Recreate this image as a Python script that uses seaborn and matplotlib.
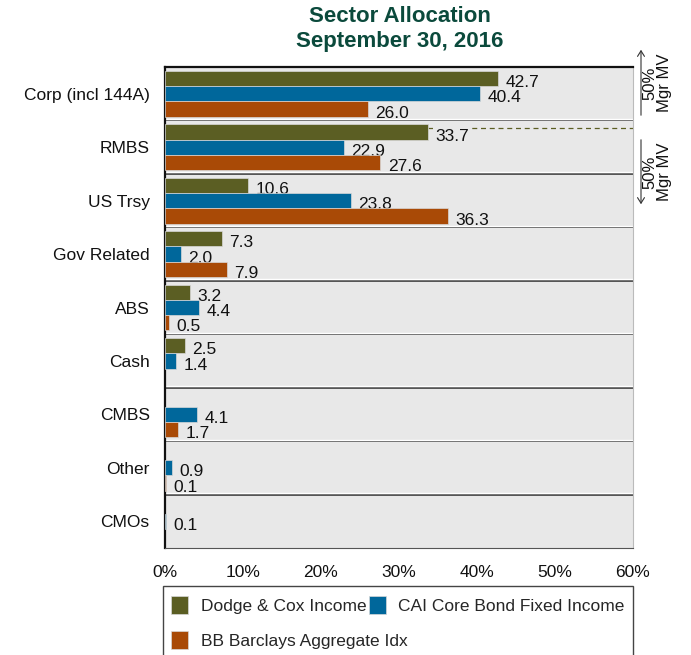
import numpy as np
import pandas as pd
import matplotlib
matplotlib.use("Agg")
import matplotlib.pyplot as plt
from matplotlib.patches import Rectangle, Patch, FancyArrowPatch
import seaborn as sns

sectors = ["Corp (incl 144A)", "RMBS", "US Trsy", "Gov Related", "ABS",
           "Cash", "CMBS", "Other", "CMOs"]
funds = ["Dodge & Cox Income", "CAI Core Bond Fixed Income", "BB Barclays Aggregate Idx"]
dodge_cox = [42.7, 33.7, 10.6, 7.3, 3.2, 2.5, np.nan, np.nan, np.nan]
cai_core = [40.4, 22.9, 23.8, 2.0, 4.4, 1.4, 4.1, 0.9, 0.1]
bb_agg = [26.0, 27.6, 36.3, 7.9, 0.5, np.nan, 1.7, 0.1, np.nan]
x_ticks = [0, 10, 20, 30, 40, 50, 60]
colors = ["#5B5E23", "#00679B", "#A94A06"]

rows = []
for fund, vals in zip(funds, [dodge_cox, cai_core, bb_agg]):
    for s, v in zip(sectors, vals):
        rows.append({"sector": s, "fund": fund, "value": v})
df = pd.DataFrame(rows)

sns.set_theme(style="white")
plt.rcParams["font.family"] = ["Liberation Sans", "DejaVu Sans"]
FS = 12.5
BG = "#E8E8E8"

fig = plt.figure(figsize=(6.91, 6.55), dpi=100)
ax = fig.add_axes([165 / 691, 1 - 548 / 655, 468 / 691, 481 / 655])
ax.set_facecolor(BG)

sns.barplot(data=df, y="sector", x="value", hue="fund", order=sectors,
            hue_order=funds, palette=colors, orient="h", width=0.86,
            errorbar=None, ax=ax, legend=False, saturation=1,
            edgecolor="#D8D8D8", linewidth=0.5, zorder=3)

# value labels to the right of each bar, tucked beneath the next bar
for cont in ax.containers:
    for bar in cont:
        w = bar.get_width()
        if np.isnan(w):
            continue
        yc = bar.get_y() + bar.get_height() / 2
        ax.annotate(f"{w:.1f}", (w, yc), xytext=(5.5, -3), textcoords="offset points",
                    ha="left", va="center", fontsize=FS, color="#111111", zorder=1.5,
                    bbox=dict(boxstyle="square,pad=0.15", fc=BG, ec="none"))

# group separators
for i in range(len(sectors) - 1):
    ax.axhline(i + 0.5, color="#2A2A2A", lw=1.1, zorder=2)
    ax.axhline(i + 0.5 - 0.03, color="white", lw=1.0, zorder=2)

# 50% market value marker in the RMBS row
rmbs_y = sectors.index("RMBS") - 0.86 / 3 - 0.07
ax.plot([dodge_cox[1], 60], [rmbs_y, rmbs_y], ls=(0, (4, 3)), color="#5B5E23",
        lw=0.9, zorder=1.2)

ax.set_xlim(0, 60)
ax.set_ylim(len(sectors) - 0.5, -0.5)
ax.set_xticks(x_ticks)
ax.set_xticklabels([f"{t}%" for t in x_ticks], fontsize=FS, color="#111111")
ax.tick_params(axis="x", direction="out", length=5, width=0.8, color="#555555", pad=7)
ax.tick_params(axis="y", length=0, labelsize=FS, labelcolor="#111111", pad=11)
ax.set_xlabel("")
ax.set_ylabel("")
for side in ["left", "top"]:
    ax.spines[side].set_color("#111111")
    ax.spines[side].set_linewidth(1.6)
ax.spines["bottom"].set_color("#555555")
ax.spines["bottom"].set_linewidth(0.8)
ax.spines["right"].set_color("#BBBBBB")
ax.spines["right"].set_linewidth(0.8)

fig.text(400 / 691, 1 - 16 / 655, "Sector Allocation", ha="center", va="center",
         fontsize=16, fontweight="bold", color="#0B4A3C")
fig.text(400 / 691, 1 - 41 / 655, "September 30, 2016", ha="center", va="center",
         fontsize=16, fontweight="bold", color="#0B4A3C")

# side annotations with arrows
fig.add_artist(FancyArrowPatch(
    (641 / 691, 1 - 118 / 655), (641 / 691, 1 - 47 / 655), transform=fig.transFigure,
    arrowstyle="->,head_length=4,head_width=2.5", color="#333333", lw=0.8))
fig.add_artist(FancyArrowPatch(
    (641 / 691, 1 - 137 / 655), (641 / 691, 1 - 207 / 655), transform=fig.transFigure,
    arrowstyle="->,head_length=4,head_width=2.5", color="#333333", lw=0.8))
for yc in (83, 172):
    fig.text(657 / 691, 1 - yc / 655, "50%\nMgr MV", rotation=90, ha="center",
             va="center", fontsize=12, color="#111111", linespacing=0.92)

# legend box below the axis
fig.add_artist(Rectangle((163 / 691, -0.05), 470 / 691, 0.05 + 1 - 586 / 655,
                         transform=fig.transFigure, fc="white", ec="#444444", lw=1.0))
handles = [Patch(facecolor=c, edgecolor="#D8D8D8", lw=0.5) for c in colors]
fig.legend(handles[:2], funds[:2], loc="center left", ncol=2,
           bbox_to_anchor=(171 / 691, 1 - 605 / 655), frameon=False,
           fontsize=FS, handlelength=1.0, handleheight=1.3,
           handletextpad=0.7, columnspacing=0.15, borderpad=0, borderaxespad=0)
fig.legend(handles[2:], funds[2:], loc="center left",
           bbox_to_anchor=(171 / 691, 1 - 640 / 655), frameon=False,
           fontsize=FS, handlelength=1.0, handleheight=1.3,
           handletextpad=0.7, borderpad=0, borderaxespad=0)

fig.savefig("out.png", dpi=100, facecolor="white")
